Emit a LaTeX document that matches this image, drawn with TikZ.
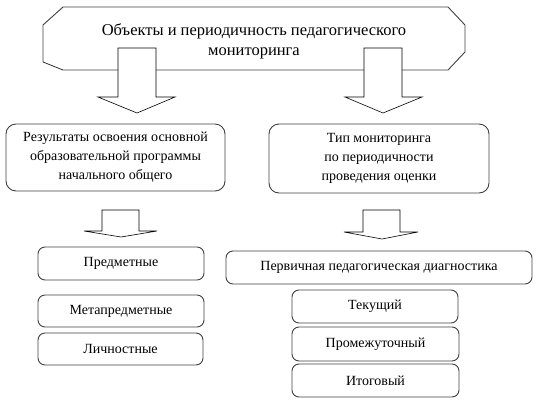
\documentclass[tikz,border=0pt]{standalone}
\usepackage{fontspec}
\setmainfont{Liberation Serif}
\begin{document}
\begin{tikzpicture}[x=1pt,y=-1pt,
  txt/.style={align=center, inner sep=0pt, font=\rmfamily\fontsize{14}{19}\selectfont},
  box/.style={txt, draw=black!75, line width=0.9pt, rounded corners=7pt},
  bigbox/.style={box, rounded corners=10pt},
  frame/.style={draw=black!75, line width=0.9pt},
  barrow/.style={draw=black, line width=0.6pt, fill=white, line join=miter}]
\useasboundingbox (0,0) rectangle (539,405);
% top octagon
\draw[frame] (63,7) -- (448,7) -- (465,25) -- (465,52) -- (448,70) -- (63,70) -- (43,62) -- (43,25) -- cycle;
\node[txt, font=\rmfamily\fontsize{16.5}{20}\selectfont] (top) at (254,41) {Объекты и периодичность педагогического\\мониторинга};
% top block arrows
\draw[barrow] (118,48) -- (118,97) -- (98,97) -- (137,113) -- (175,97) -- (156,97) -- (156,48) -- cycle;
\draw[barrow] (364,48) -- (364,97) -- (345,97) -- (383,113) -- (422,97) -- (402,97) -- (402,48) -- cycle;
% middle boxes
\node[bigbox, minimum width=219pt, minimum height=67pt] (res) at (115.5,157.5) {Результаты освоения основной\\образовательной программы\\начального общего};
\node[bigbox, minimum width=220pt, minimum height=69pt] (type) at (379,158.5) {Тип мониторинга\\по периодичности\\проведения оценки};
% lower block arrows
\draw[barrow] (102,210) -- (102,231) -- (84,231) -- (121,237) -- (157,231) -- (139,231) -- (139,210) -- cycle;
\draw[barrow] (363,210) -- (363,232) -- (344,232) -- (382,239) -- (418,232) -- (400,232) -- (400,210) -- cycle;
% left column
\node[box, minimum width=166pt, minimum height=33pt] (subj) at (121,263.5) {Предметные};
\node[box, minimum width=166pt, minimum height=32pt] (meta) at (121,311) {Метапредметные};
\node[box, minimum width=165pt, minimum height=32pt] (pers) at (120.5,349) {Личностные};
% right column
\node[box, minimum width=306pt, minimum height=33pt] (prim) at (379,267.5) {Первичная педагогическая диагностика};
\node[box, minimum width=166pt, minimum height=33pt] (cur) at (375,306.5) {Текущий};
\node[box, minimum width=167pt, minimum height=34pt] (mid) at (375.5,344) {Промежуточный};
\node[box, minimum width=167pt, minimum height=33pt] (fin) at (375.5,380.5) {Итоговый};
\end{tikzpicture}
\end{document}
